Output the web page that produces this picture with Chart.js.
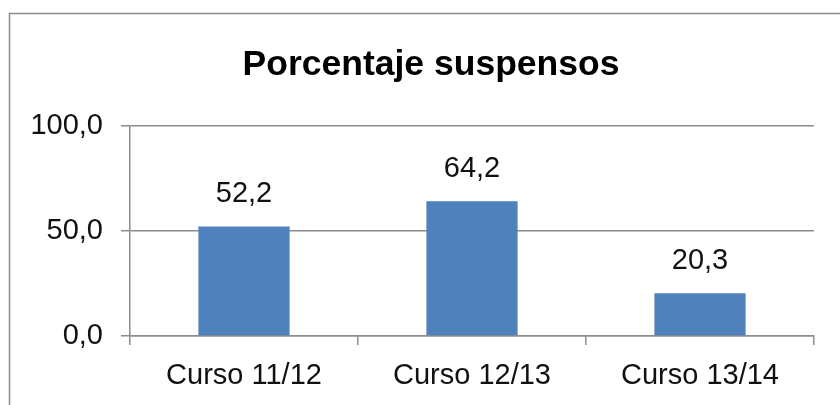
<!DOCTYPE html>
<html>
<head>
<meta charset="utf-8">
<script src="https://cdn.jsdelivr.net/npm/chart.js@4/dist/chart.umd.min.js"></script>
<style>
  html, body { margin: 0; padding: 0; background: #fff; }
  #wrap { width: 840px; height: 405px; position: relative; }
</style>
</head>
<body>
<div id="wrap"><canvas id="chart1"></canvas></div>
<script>
// Datos del gráfico
const cursos = ['Curso 11/12', 'Curso 12/13', 'Curso 13/14'];
const suspensos = [52.2, 64.2, 20.3];
const tituloTexto = 'Porcentaje suspensos';

const fmt = v => Number(v).toFixed(1).replace('.', ',');
const fuente = '"Liberation Sans", Arial, Helvetica, sans-serif';

// Marco gris, título y etiquetas de valor encima de las barras
const extras = {
    id: 'extras',
    beforeDraw(chart) {
        const c = chart.ctx;
        c.save();
        c.strokeStyle = '#8c8c8c';
        c.lineWidth = 1.5;
        c.beginPath();
        c.moveTo(9.5, 410);
        c.lineTo(9.5, 13.5);
        c.lineTo(850, 13.5);
        c.stroke();
        c.font = 'bold 35.5px ' + fuente;
        c.fillStyle = '#000';
        c.textAlign = 'center';
        c.textBaseline = 'middle';
        c.fillText(tituloTexto, 431, 65);
        c.restore();
    },
    afterDatasetsDraw(chart) {
        const c = chart.ctx;
        const meta = chart.getDatasetMeta(0);
        c.save();
        c.font = '29px ' + fuente;
        c.fillStyle = '#111';
        c.textAlign = 'center';
        c.textBaseline = 'middle';
        meta.data.forEach((bar, i) => {
            c.fillText(fmt(chart.data.datasets[0].data[i]), bar.x, bar.y - 32);
        });
        c.restore();
    }
};

const ctx1 = document.getElementById('chart1').getContext('2d');
const chart1 = new Chart(ctx1, {
    type: 'bar',
    data: {
        labels: cursos,
        datasets: [{
            label: tituloTexto,
            data: suspensos,
            backgroundColor: '#4f81bd',
            borderWidth: 0,
            categoryPercentage: 0.4,
            barPercentage: 1
        }]
    },
    options: {
        responsive: true,
        maintainAspectRatio: false,
        animation: false,
        layout: { padding: { left: 9, right: 26, top: 126, bottom: 0 } },
        plugins: {
            legend: { display: false },
            tooltip: { enabled: false },
            title: { display: false }
        },
        scales: {
            x: {
                grid: {
                    offset: true,
                    drawOnChartArea: false,
                    drawTicks: true,
                    tickLength: 9,
                    color: '#8c8c8c',
                    lineWidth: 1.5
                },
                border: { display: true, color: '#8c8c8c', width: 1.5 },
                ticks: {
                    color: '#111',
                    padding: 14,
                    maxRotation: 0,
                    font: { family: fuente, size: 29 }
                },
                afterFit(scale) { scale.height = 69; }
            },
            y: {
                min: 0,
                max: 100,
                ticks: {
                    stepSize: 50,
                    color: '#111',
                    padding: 18,
                    font: { family: fuente, size: 29 },
                    callback: v => fmt(v)
                },
                grid: {
                    color: '#8c8c8c',
                    lineWidth: 1.5,
                    tickLength: 9
                },
                border: { display: true, color: '#8c8c8c', width: 1.5 },
                afterFit(scale) { scale.width = 121; }
            }
        }
    },
    plugins: [extras]
});
</script>
</body>
</html>
